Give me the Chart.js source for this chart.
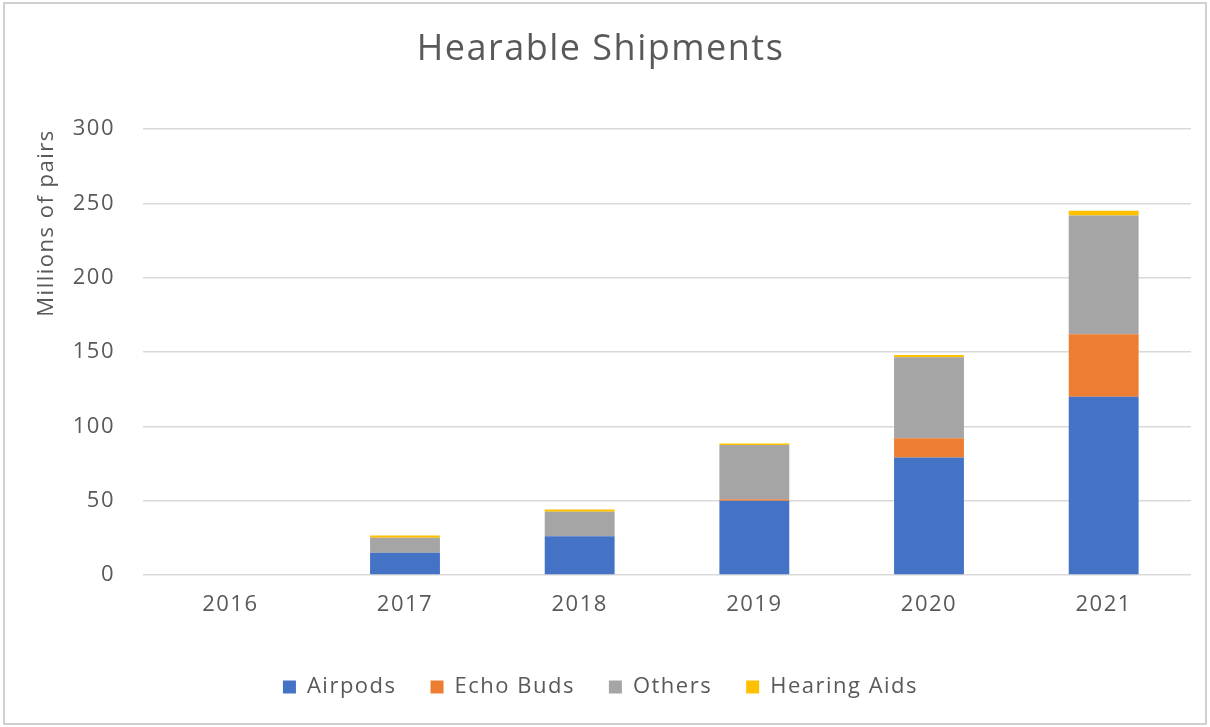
<!DOCTYPE html>
<html>
<head>
<meta charset="utf-8">
<script src="https://cdn.jsdelivr.net/npm/chart.js@4.4.1/dist/chart.umd.min.js"></script>
<style>
  html, body { margin: 0; padding: 0; background: #ffffff; }
  #wrap { width: 1210px; height: 727px; position: relative; }
</style>
</head>
<body>
<div id="wrap"><canvas id="c" width="1210" height="727"></canvas></div>
<script>
const categories = ['2016', '2017', '2018', '2019', '2020', '2021'];
const airpods = [0, 15, 26, 50, 79, 120];
const echoBuds = [0, 0, 0, 1, 13, 42];
const others = [0, 10, 16.5, 36.5, 54.5, 80];
const hearingAids = [0, 1.5, 1.5, 1, 1.6, 3.2];
const yTicks = [0, 50, 100, 150, 200, 250, 300];

const TEXT = '#595959';
const FONT = "'Open Sans', sans-serif";
const SPACING = '1.5px';

const setSpacing = (chart) => { chart.ctx.letterSpacing = SPACING; };

const borderPlugin = {
  id: 'outerBorder',
  beforeInit: setSpacing,
  beforeUpdate: setSpacing,
  beforeLayout: setSpacing,
  beforeDraw(chart) {
    const ctx = chart.ctx;
    ctx.letterSpacing = SPACING;
    ctx.save();
    ctx.fillStyle = '#ffffff';
    ctx.fillRect(0, 0, chart.width, chart.height);
    ctx.strokeStyle = '#d0d0d0';
    ctx.lineWidth = 2;
    ctx.strokeRect(4, 3, chart.width - 8, chart.height - 6);
    ctx.restore();
  }
};

const ds = (label, data, color) => ({
  label, data, backgroundColor: color, borderWidth: 0,
  barPercentage: 1.0, categoryPercentage: 0.4
});

new Chart(document.getElementById('c'), {
  type: 'bar',
  data: {
    labels: categories,
    datasets: [
      ds('Airpods', airpods, '#4472C4'),
      ds('Echo Buds', echoBuds, '#ED7D31'),
      ds('Others', others, '#A5A5A5'),
      ds('Hearing Aids', hearingAids, '#FFC000')
    ]
  },
  options: {
    responsive: false,
    animation: false,
    layout: { padding: { left: 10, right: 19, top: 0, bottom: 19 } },
    plugins: {
      title: {
        display: true,
        text: 'Hearable Shipments',
        color: TEXT,
        font: { family: FONT, size: 36, weight: 'normal' },
        padding: { top: 28, bottom: 58 }
      },
      legend: {
        position: 'bottom',
        labels: {
          color: TEXT,
          font: { family: FONT, size: 22 },
          boxWidth: 13, boxHeight: 13, padding: 34
        }
      },
      tooltip: { enabled: false }
    },
    scales: {
      x: {
        stacked: true,
        grid: { display: false },
        border: { display: false },
        ticks: { color: TEXT, font: { family: FONT, size: 22 }, padding: 9 },
        afterFit(s) { s.height = 67; }
      },
      y: {
        stacked: true,
        min: 0, max: 300,
        afterBuildTicks(s) { s.ticks = yTicks.map(v => ({ value: v })); },
        grid: { color: '#d9d9d9', lineWidth: 1.5, drawTicks: false },
        border: { display: false },
        ticks: { color: TEXT, font: { family: FONT, size: 22 }, padding: 28 },
        title: {
          display: true,
          text: 'Millions of pairs',
          color: TEXT,
          align: 'end',
          font: { family: FONT, size: 22 },
          padding: { top: 24, bottom: 0 }
        },
        afterFit(s) { s.width = 133; }
      }
    }
  },
  plugins: [borderPlugin]
});
</script>
</body>
</html>
